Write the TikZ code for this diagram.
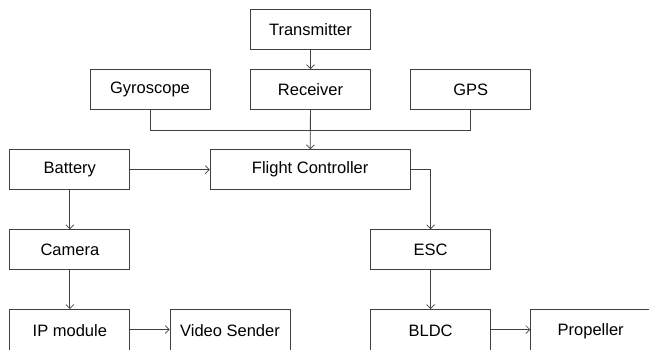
\documentclass[tikz,border=0pt]{standalone}
\usepackage{fontspec}
\setmainfont{Liberation Sans}
\usetikzlibrary{arrows.meta}
\begin{document}
\begin{tikzpicture}[x=1pt,y=-1pt,
  box/.style={draw=black!75,line width=0.9pt,minimum width=120pt,minimum height=40pt,inner sep=0pt,
    font=\fontsize{16.5}{18}\selectfont},
  lowbox/.style={box,minimum height=44pt},
  wire/.style={draw=black!75,line width=0.8pt},
  arr/.style={wire,-{Straight Barb[length=4pt,width=8pt,line width=0.7pt]}}]
\useasboundingbox (0,0) rectangle (649,349);
\clip (0,0) rectangle (649,349);
\node[box] (tx)   at (310.5,29.5)  {Transmitter};
\node[box] (gyro) at (150,89.5)    {Gyroscope};
\node[box] (rx)   at (310.5,89.5)  {Receiver};
\node[box] (gps)  at (470.7,89.5)  {GPS};
\node[box] (bat)  at (69.85,169.7) {Battery};
\node[box,minimum width=200pt] (fc) at (310.2,169.7) {Flight Controller};
\node[box] (cam)  at (69.85,249.7) {Camera};
\node[box] (esc)  at (430.6,249.7) {ESC};
\node[lowbox] (ip)   at (69.85,331.5) {\raisebox{2pt}{IP module}};
\node[lowbox] (vid)  at (230,331.5)   {\raisebox{2pt}{Video Sender}};
\node[lowbox] (bldc) at (430.6,331.5) {\raisebox{2pt}{BLDC}};
\node[lowbox] (prop) at (590.7,331.5) {\raisebox{2pt}{Propeller}};
\coordinate (bus) at (310.5,130);
\draw[arr] (tx) -- (rx);
\draw[wire] (gyro.south) -- (gyro.south |- bus) -- (gps.south |- bus) -- (gps.south);
\draw[arr] (rx) -- (fc);
\draw[arr] (bat) -- (fc);
\draw[arr] (fc.east) -| (esc.north);
\draw[arr] (bat) -- (cam);
\draw[arr] (cam) -- (ip);
\draw[arr] (ip.east |- 0,329.5) -- (vid.west |- 0,329.5);
\draw[arr] (esc) -- (bldc);
\draw[arr] (bldc.east |- 0,329.5) -- (prop.west |- 0,329.5);
\end{tikzpicture}
\end{document}
